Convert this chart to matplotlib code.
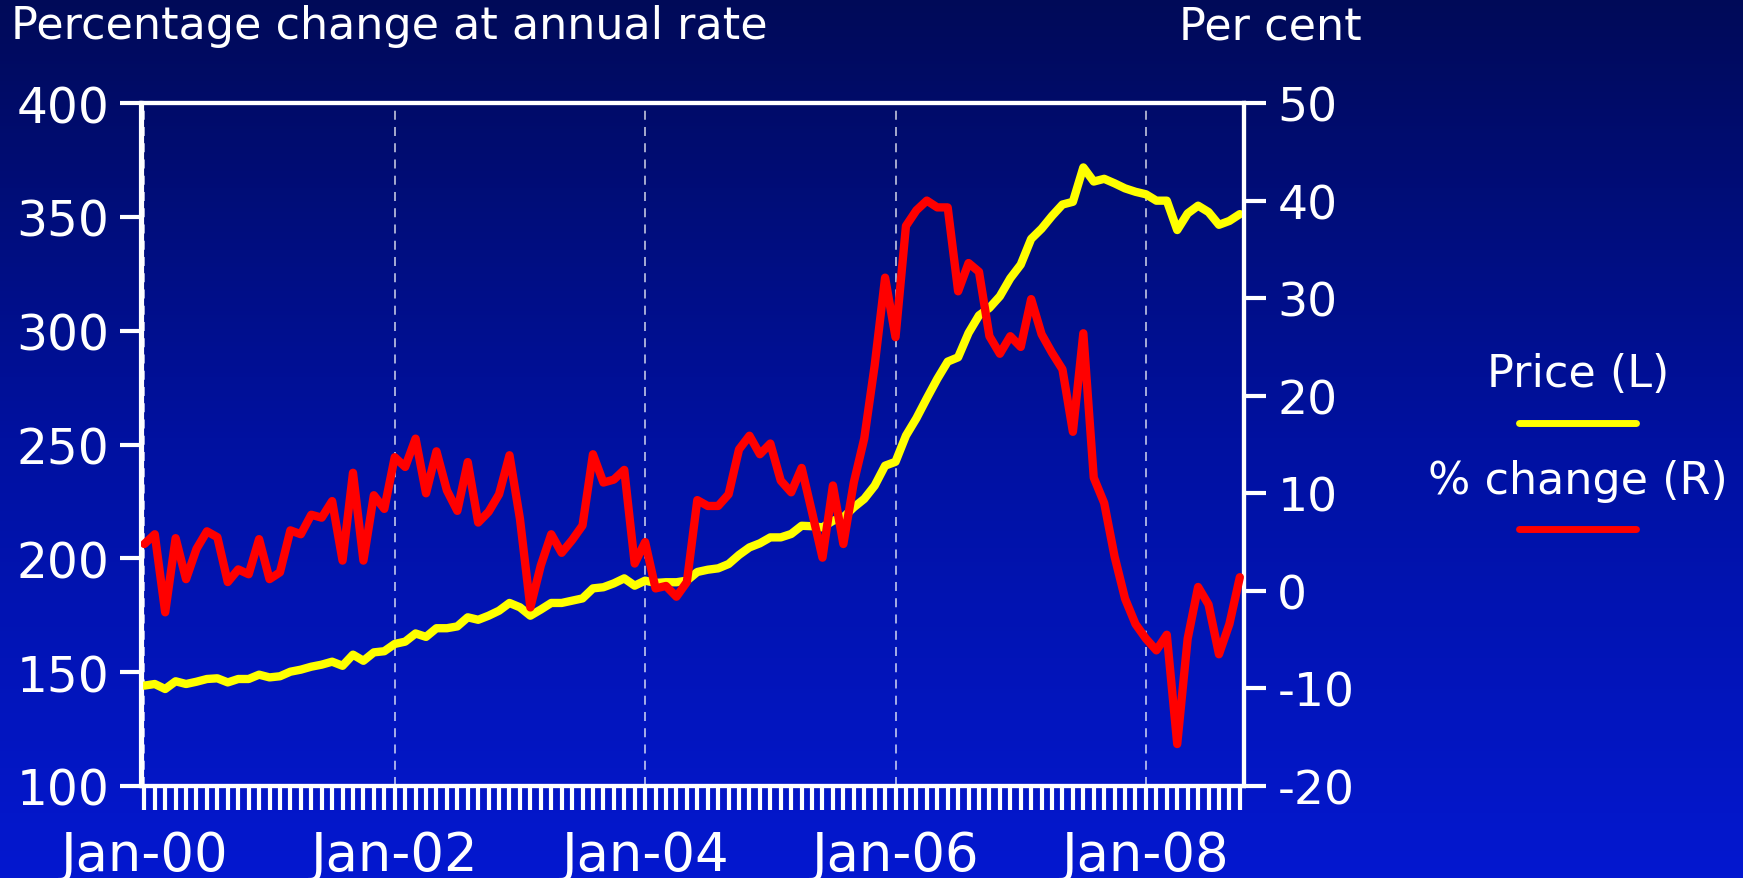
import numpy as np
import matplotlib
matplotlib.use("Agg")
import matplotlib.pyplot as plt
from matplotlib.colors import LinearSegmentedColormap
from matplotlib.lines import Line2D

plt.rcParams["font.family"] = ["DejaVu Sans"]
plt.rcParams["axes.unicode_minus"] = False

# ── Data (monthly, Jan-00 .. Oct-08) ─────────────────────────────────────────
months = np.arange(106)

price = [
    144.1, 144.8, 142.6, 146.0, 144.8, 145.8, 147.0, 147.3, 145.5, 147.0,
    147.0, 148.9, 147.7, 148.2, 150.2, 151.1, 152.4, 153.3, 154.6, 152.8,
    157.7, 155.0, 158.7, 159.2, 162.4, 163.4, 167.0, 165.5, 169.3, 169.3,
    170.1, 174.1, 173.0, 174.8, 177.0, 180.4, 178.5, 174.8, 177.5, 180.4,
    180.4, 181.4, 182.4, 186.8, 187.3, 189.0, 191.2, 188.0, 190.2, 189.2,
    189.5, 189.5, 190.2, 194.0, 195.0, 195.6, 197.5, 201.5, 204.8, 206.6,
    209.2, 209.2, 210.7, 214.3, 214.1, 213.6, 216.5, 218.0, 222.4, 226.1,
    231.9, 240.7, 242.4, 253.9, 261.5, 270.3, 278.8, 286.4, 288.3, 299.0,
    306.7, 310.0, 315.1, 323.0, 329.0, 340.3, 344.8, 350.4, 355.4, 356.6,
    371.7, 365.5, 366.7, 364.7, 362.5, 361.0, 359.9, 357.1, 357.1, 344.2,
    351.5, 354.9, 352.1, 346.5, 348.2, 351.2,
]

pct_change = [
    4.8, 5.8, -2.2, 5.4, 1.2, 4.3, 6.1, 5.5, 0.9, 2.2,
    1.7, 5.3, 1.2, 1.9, 6.2, 5.8, 7.8, 7.5, 9.2, 3.1,
    12.1, 3.1, 9.8, 8.4, 13.7, 12.7, 15.6, 10.0, 14.3, 10.3,
    8.2, 13.2, 7.0, 8.1, 9.9, 13.9, 7.4, -1.7, 2.6, 5.8,
    3.9, 5.2, 6.7, 14.0, 11.1, 11.4, 12.4, 2.8, 5.0, 0.25,
    0.5, -0.6, 0.9, 9.3, 8.7, 8.7, 9.9, 14.5, 15.9, 14.0,
    15.1, 11.3, 10.1, 12.6, 8.05, 3.4, 10.8, 4.8, 11.1, 15.6,
    23.1, 32.1, 26.0, 37.4, 39.0, 40.0, 39.3, 39.3, 30.7, 33.6,
    32.7, 26.1, 24.3, 26.1, 25.0, 29.9, 26.3, 24.4, 22.7, 16.3,
    26.4, 11.6, 9.0, 3.5, -0.8, -3.4, -4.9, -6.1, -4.5, -15.7,
    -4.9, 0.4, -1.4, -6.5, -3.4, 1.4,
]

year_ticks = [0, 24, 48, 72, 96]
year_labels = ["Jan-00", "Jan-02", "Jan-04", "Jan-06", "Jan-08"]
left_ticks = [100, 150, 200, 250, 300, 350, 400]
right_ticks = [-20, -10, 0, 10, 20, 30, 40, 50]

W, H = 1743, 879
fig = plt.figure(figsize=(W / 100, H / 100), dpi=100)

# ── gradient background ───────────────────────────────────────────────────────
bg = fig.add_axes([0, 0, 1, 1], zorder=-10)
grad = np.linspace(0, 1, 256).reshape(-1, 1)
cmap = LinearSegmentedColormap.from_list("bg", ["#000a58", "#0011a0", "#0418d0"])
bg.imshow(grad, aspect="auto", cmap=cmap, extent=[0, 1, 0, 1], origin="upper")
bg.axis("off")

# ── main axes ────────────────────────────────────────────────────────────────
left, right, top, bottom = 141.5, 1244, 104, 787
ax = fig.add_axes([left / W, 1 - bottom / H, (right - left) / W, (bottom - top) / H])
ax.patch.set_alpha(0)
ax2 = ax.twinx()
ax2.patch.set_alpha(0)

ax.plot(months, price, color="#ffff00", lw=6, solid_joinstyle="round",
        solid_capstyle="round", zorder=3)
ax2.plot(months, pct_change, color="#ff0000", lw=6, solid_joinstyle="round",
         solid_capstyle="round", zorder=3)

for p in year_ticks:
    ax.axvline(p, color="white", lw=1.3, ls=(0, (5, 4)), alpha=0.7, zorder=1)

ax.set_xlim(-0.27, 105.4)
ax.set_ylim(100, 400)
ax2.set_ylim(-20, 50)

ax.set_xticks(year_ticks, year_labels)
ax.set_xticks(months, minor=True)
ax.set_yticks(left_ticks, [str(v) for v in left_ticks])
ax2.set_yticks(right_ticks, [str(v) for v in right_ticks])

ax.tick_params(axis="x", which="both", direction="out", length=17, width=3,
               colors="white", labelsize=38, pad=14)
ax.tick_params(axis="y", direction="out", length=16, width=3,
               colors="white", labelsize=35, pad=7)
ax2.tick_params(axis="y", direction="out", length=16, width=3,
                colors="white", labelsize=34, pad=8)

for a in (ax, ax2):
    for s in a.spines.values():
        s.set_color("white")
        s.set_linewidth(3)

# ── headers ──────────────────────────────────────────────────────────────────
fig.text(11 / W, 1 - 27 / H, "Percentage change at annual rate", color="white",
         fontsize=32, ha="left", va="center")
fig.text(1362 / W, 1 - 27 / H, "Per cent", color="white",
         fontsize=32, ha="right", va="center")

# ── legend (label above its key line) ────────────────────────────────────────
fig.text(1578 / W, 1 - 375 / H, "Price (L)", color="white", fontsize=32,
         ha="center", va="center")
fig.add_artist(Line2D([1519 / W, 1636 / W], [1 - 424 / H, 1 - 424 / H],
                      color="#ffff00", lw=5, solid_capstyle="round"))
fig.text(1578 / W, 1 - 482 / H, "% change (R)", color="white", fontsize=32,
         ha="center", va="center")
fig.add_artist(Line2D([1519 / W, 1636 / W], [1 - 530 / H, 1 - 530 / H],
                      color="#ff0000", lw=5, solid_capstyle="round"))

fig.savefig("out.png", dpi=100)
